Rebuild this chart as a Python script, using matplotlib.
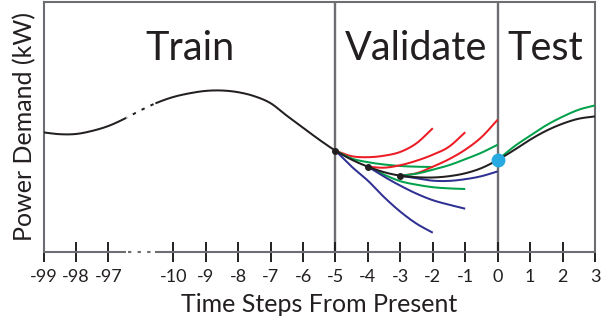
import numpy as np
import matplotlib
matplotlib.use("Agg")
import matplotlib.pyplot as plt

plt.rcParams['font.family'] = ['Lato', 'DejaVu Sans']

# ---- data -------------------------------------------------------------
# axis positions: -99,-98,-97 sit at 0,1,2; a break follows; -10..3 sit at 4..17
tick_pos = [0, 1, 2, 4, 5, 6, 7, 8, 9, 10, 11, 12, 13, 14, 15, 16, 17]
tick_labels = ['-99', '-98', '-97', '-10', '-9', '-8', '-7', '-6', '-5',
               '-4', '-3', '-2', '-1', '0', '1', '2', '3']

# observed power demand (kW) along the axis positions
actual_pos = [0, 0.5, 1, 1.5, 2, 2.5, 3, 3.5, 4, 4.5, 5, 5.5, 6, 6.5, 7, 7.5,
              8, 8.5, 9, 9.5, 10, 10.5, 11, 11.5, 12, 12.5, 13, 13.5, 14,
              14.5, 15, 15.5, 16, 16.5, 17]
actual_kw = [11.93, 11.75, 11.77, 12.08, 12.57, 13.30, 14.15, 14.90, 15.47,
             15.84, 16.08, 16.12, 15.95, 15.55, 14.85, 13.60, 12.40, 11.20,
             10.10, 9.20, 8.50, 7.95, 7.60, 7.45, 7.42, 7.55, 7.84, 8.36,
             9.17, 10.15, 11.20, 12.10, 12.80, 13.30, 13.53]

# forecasts issued in the validation window (origin + 3 steps, half-step reads)
fc_from_m5 = [9, 9.5, 10, 10.5, 11, 11.5, 12]
fc_from_m4 = [10, 10.5, 11, 11.5, 12, 12.5, 13]
fc_from_m3 = [11, 11.5, 12, 12.5, 13, 13.5, 14]

red_m5 = [10.10, 9.55, 9.45, 9.60, 9.98, 10.85, 12.35]
green_m5 = [10.10, 9.32, 8.95, 8.72, 8.57, 8.50, 8.47]
blue_m5 = [10.10, 8.50, 7.10, 5.45, 4.00, 2.80, 1.90]

red_m4 = [8.50, 8.40, 8.65, 9.10, 9.70, 10.50, 11.95]
green_m4 = [8.50, 7.70, 7.05, 6.70, 6.45, 6.33, 6.27]
blue_m4 = [8.50, 7.50, 6.60, 5.80, 5.15, 4.70, 4.30]

red_m3 = [7.60, 7.85, 8.50, 9.25, 10.20, 11.45, 13.20]
green_m3 = [7.60, 7.80, 8.20, 8.65, 9.25, 9.90, 10.70]
blue_m3 = [7.60, 7.35, 7.10, 7.08, 7.25, 7.55, 8.03]

# chosen model's forecast over the test window
test_pos = [14, 14.5, 15, 15.5, 16, 16.5, 17]
test_green = [9.17, 10.50, 11.60, 12.65, 13.50, 14.20, 14.63]

origins_pos = [9, 10, 11]
origins_kw = [10.10, 8.50, 7.60]
present_pos = 14
present_kw = 9.17

region_names = ['Train', 'Validate', 'Test']
region_centers = [4.52, 11.47, 15.48]

# ---- style ------------------------------------------------------------
RED = '#ec1c24'
GREEN = '#00a14b'
BLUE = '#2e3192'
INK = '#231f20'
GRID = '#6d6e71'
CYAN = '#27aae1'
LW = 1.45


def smooth(x, y, n=30):
    """Cubic Hermite curve through the given points for drawing."""
    x = np.asarray(x, float)
    y = np.asarray(y, float)
    m = np.gradient(y, x)
    xs, ys = [], []
    for i in range(len(x) - 1):
        h = x[i + 1] - x[i]
        t = np.linspace(0, 1, n, endpoint=False)
        h00 = 2 * t**3 - 3 * t**2 + 1
        h10 = t**3 - 2 * t**2 + t
        h01 = -2 * t**3 + 3 * t**2
        h11 = t**3 - t**2
        xs.append(x[i] + t * h)
        ys.append(h00 * y[i] + h10 * h * m[i] + h01 * y[i + 1] + h11 * h * m[i + 1])
    xs.append([x[-1]])
    ys.append([y[-1]])
    return np.concatenate(xs), np.concatenate(ys)


W, H = 611, 323
fig = plt.figure(figsize=(W / 100, H / 100), dpi=100)
x0, x1, ytop, ybot = 43.5, 595.0, 2.0, 251.7
ax = fig.add_axes([x0 / W, (H - ybot) / H, (x1 - x0) / W, (ybot - ytop) / H])
ax.set_xlim(0, 17)
ax.set_ylim(0, 24.97)

for side in ('left', 'top', 'right'):
    ax.spines[side].set_color(GRID)
    ax.spines[side].set_linewidth(1.5)
ax.spines['bottom'].set_visible(False)
ax.set_yticks([])

# region dividers
for p in (9, 14):
    ax.axvline(p, color=GRID, lw=1.7, zorder=1)

# time axis with a break between -97 and -10
ax.plot([0, 2.55], [0, 0], color=GRID, lw=1.5, clip_on=False, solid_capstyle='butt')
ax.plot([3.45, 17], [0, 0], color=GRID, lw=1.5, clip_on=False, solid_capstyle='butt')
ax.plot([2.6, 3.4], [0, 0], color=GRID, lw=1.5, clip_on=False,
        linestyle=(0, (1.6, 3.0)))

ax.set_xticks(tick_pos)
ax.set_xticklabels(tick_labels)
ax.tick_params(axis='x', direction='inout', length=15, width=1.4, color=INK,
               labelsize=13, labelcolor=INK, pad=5)

# forecasts
for xs_, series in ((fc_from_m5, (red_m5, green_m5, blue_m5)),
                    (fc_from_m4, (red_m4, green_m4, blue_m4)),
                    (fc_from_m3, (red_m3, green_m3, blue_m3))):
    for col, vals in zip((RED, GREEN, BLUE), series):
        sx, sy = smooth(xs_, vals)
        ax.plot(sx, sy, color=col, lw=LW, zorder=3, solid_capstyle='butt')

sx, sy = smooth(test_pos, test_green)
ax.plot(sx, sy, color=GREEN, lw=LW, zorder=3, solid_capstyle='butt')

# observed series, dashed across the axis break
sx, sy = smooth(actual_pos, actual_kw)
brk = (sx > 2.55) & (sx < 3.45)
left = sx <= 2.56
right = sx >= 3.44
ax.plot(sx[left], sy[left], color=INK, lw=LW, zorder=4, solid_capstyle='butt')
ax.plot(sx[right], sy[right], color=INK, lw=LW, zorder=4, solid_capstyle='butt')
ax.plot(sx[brk], sy[brk], color=INK, lw=LW, zorder=4, linestyle=(1.5, (1.7, 3.2)))

ax.plot(origins_pos, origins_kw, 'o', color=INK, ms=4, zorder=5)
ax.plot([present_pos], [present_kw], 'o', color=CYAN, ms=9, zorder=6, clip_on=False)

# region captions
for name, cx in zip(region_names, region_centers):
    ax.text(cx, 19.2, name, ha='center', va='baseline', fontsize=28.5, color=INK)

ax.set_xlabel('Time Steps From Present', fontsize=18, color=INK, labelpad=6)
ax.set_ylabel('Power Demand (kW)', fontsize=18, color=INK, labelpad=5)

fig.savefig('out.png', dpi=100)
